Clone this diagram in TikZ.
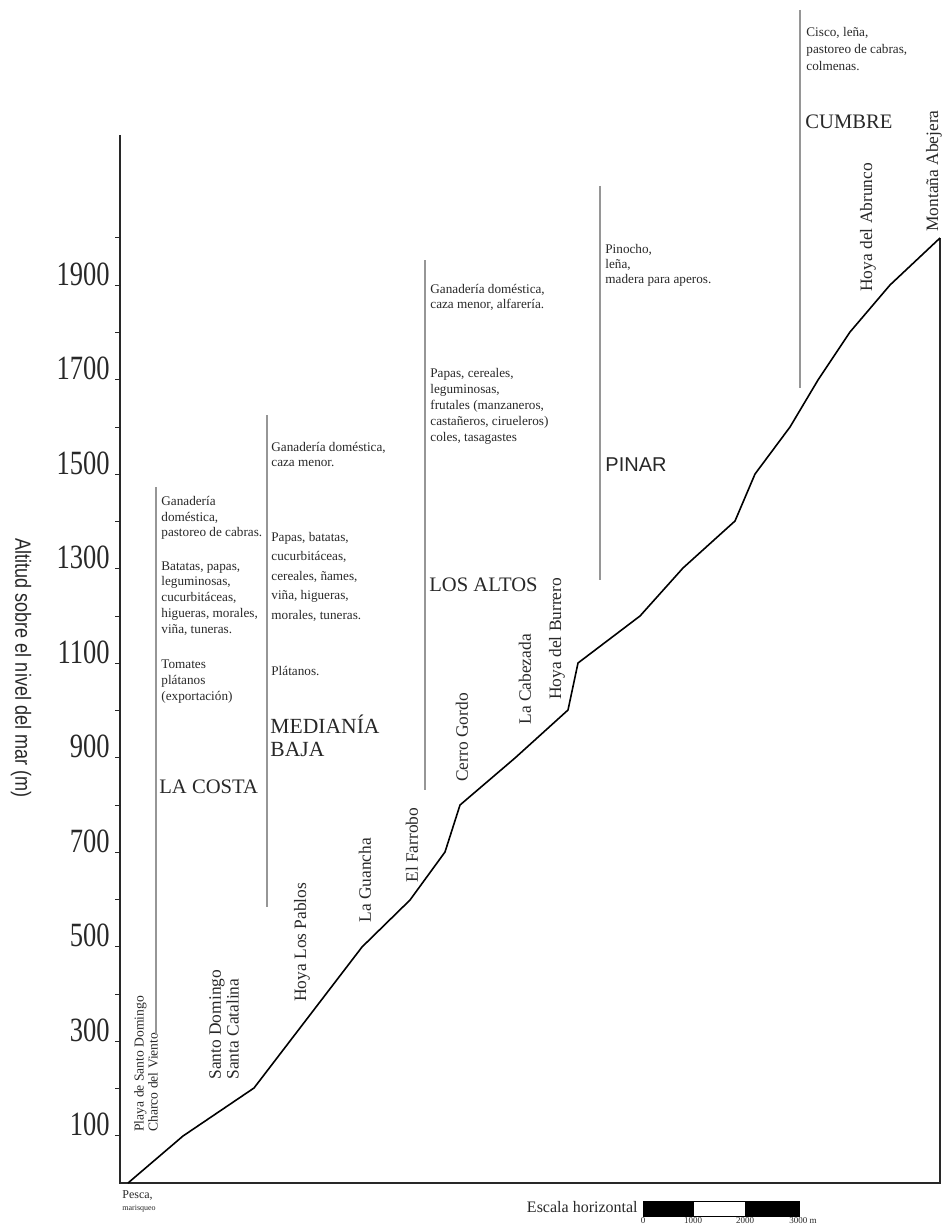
\documentclass[tikz,border=0pt]{standalone}
\usepackage{fontspec}
\setmainfont{Liberation Serif}
\newfontfamily\axisfont[FakeStretch=0.82]{Liberation Sans}
\newfontfamily\numfont[FakeStretch=0.78]{Liberation Serif}
\newfontfamily\pinarfont{Liberation Sans}
\usetikzlibrary{positioning}
\definecolor{inkgray}{RGB}{40,40,40}
\definecolor{bargray}{RGB}{150,150,150}

\begin{document}
\begin{tikzpicture}[x=0.5pt,y=-0.5pt,
  frame/.style={draw=inkgray, line width=1pt},
  profile/.style={draw=black, line width=0.8pt, line join=round},
  zonebar/.style={draw=bargray, line width=1.1pt},
  altick/.style={draw=inkgray, line width=0.5pt},
  altnum/.style={font=\numfont\fontsize{17}{17}\selectfont, text=inkgray, anchor=base east, inner sep=0pt},
  axistitle/.style={font=\axisfont\fontsize{11}{11}\selectfont, text=inkgray, rotate=-90, inner sep=0pt},
  place/.style={font=\fontsize{8.7}{9.6}\selectfont, text=inkgray, rotate=90, anchor=west, align=left, inner sep=0pt},
  crops/.style={font=\fontsize{6.6}{#1}\selectfont, text=inkgray, anchor=north west, align=left, inner sep=0pt},
  crops/.default=7.8,
  zonename/.style={font=\fontsize{10.3}{11}\selectfont, text=inkgray, anchor=west, align=left, inner sep=0pt},
  small/.style={font=\fontsize{#1}{#1}\selectfont, text=inkgray, inner sep=0pt}
]
\useasboundingbox (0,0) rectangle (944,1230);

% frame and altitude axis
\draw[frame] (120,135) -- (120,1183) -- (940,1183) -- (940,238);
\foreach \a in {1,...,20}
  \draw[altick] (120,{1183-47.25*\a}) -- ++(-5,0);
\foreach \m in {100,300,...,1900}
  \node[altnum] (n\m) at (110,{1183-0.4725*\m}) {\m};
\node[axistitle] (ytitle) at (21,668) {Altitud sobre el nivel del mar (m)};

% profile
\draw[profile] (128,1183) -- (183,1136) -- (254,1088) -- (290,1041) -- (326,994)
  -- (362,947) -- (410,900) -- (445,852) -- (460,805) -- (515,758) -- (568,710)
  -- (578,663) -- (640,616) -- (683,568) -- (735,521) -- (755,474) -- (790,427)
  -- (818,380) -- (850,332) -- (890,285) -- (940,238);

% places
\node[place, font=\fontsize{6.8}{7}\selectfont] (playa) at (146,1132) {Playa de Santo Domingo\\Charco del Viento};
\node[place, font=\fontsize{8.7}{6.4}\selectfont] (santo) at (224,1080) {Santo Domingo\\Santa Catalina};
\node[place] (pablos) at (302,1002) {Hoya Los Pablos};
\node[place] (guancha) at (365,923) {La Guancha};
\node[place] (farrobo) at (412,883) {El Farrobo};
\node[place] (gordo) at (462,782) {Cerro Gordo};
\node[place] (cabezada) at (525,725) {La Cabezada};
\node[place] (burrero) at (557,700) {Hoya del Burrero};
\node[place] (abrunco) at (868,292) {Hoya del Abrunco};
\node[place] (abejera) at (934,232) {Montaña Abejera};

% zones
\draw[zonebar] (156,487) -- (156,1035);
\node[crops] (costa1) at (161,496) {Ganadería\\doméstica,\\pastoreo de cabras.};
\node[crops=7.9] (costa2) at (161,561) {Batatas, papas,\\leguminosas,\\cucurbitáceas,\\higueras, morales,\\viña, tuneras.};
\node[crops=8.2] (costa3) at (161,659) {Tomates\\plátanos\\(exportación)};
\node[zonename] (costa) at (159,787) {LA COSTA};

\draw[zonebar] (267,415) -- (267,907);
\node[crops=7.5] (media1) at (271,442) {Ganadería doméstica,\\caza menor.};
\node[crops=9.7] (media2) at (271,532) {Papas, batatas,\\cucurbitáceas,\\cereales, ñames,\\viña, higueras,\\morales, tuneras.};
\node[crops] (media3) at (271,666) {Plátanos.};
\node[zonename, font=\fontsize{10.8}{11.2}\selectfont] (media) at (270,736) {MEDIANÍA\\BAJA};

\draw[zonebar] (425,260) -- (425,790);
\node[crops=7.4] (altos1) at (430,284) {Ganadería doméstica,\\caza menor, alfarería.};
\node[crops=8] (altos2) at (430,368) {Papas, cereales,\\leguminosas,\\frutales (manzaneros,\\castañeros, cirueleros)\\coles, tasagastes};
\node[zonename] (altos) at (429,585) {LOS ALTOS};

\draw[zonebar] (600,186) -- (600,580);
\node[crops=7.6] (pinar1) at (605,244) {Pinocho,\\leña,\\madera para aperos.};
\node[zonename, font=\pinarfont\fontsize{10}{11}\selectfont] (pinar) at (605,465) {PINAR};

\draw[zonebar] (800,10) -- (800,388);
\node[crops=8.5] (cumbre1) at (806,27) {Cisco, leña,\\pastoreo de cabras,\\colmenas.};
\node[zonename] (cumbre) at (805,122) {CUMBRE};

% bottom notes and scale
\node[small=6, anchor=north west] (pesca) at (122,1190) {Pesca,};
\node[small=4, anchor=north west] (marisqueo) at (122,1205) {marisqueo};
\node[small=8, anchor=base east] (escala) at (638,1212) {Escala horizontal};
\draw[fill=black] (643,1201) rectangle (693,1216);
\draw[fill=white] (693,1201) rectangle (745,1216);
\draw[fill=black] (745,1201) rectangle (799,1216);
\node[small=4.5, anchor=north] (s0) at (643,1217) {0};
\node[small=4.5, anchor=north] (s1) at (693,1217) {1000};
\node[small=4.5, anchor=north] (s2) at (745,1217) {2000};
\node[small=4.5, anchor=north west] (s3) at (789,1217) {3000 m};
\end{tikzpicture}
\end{document}
